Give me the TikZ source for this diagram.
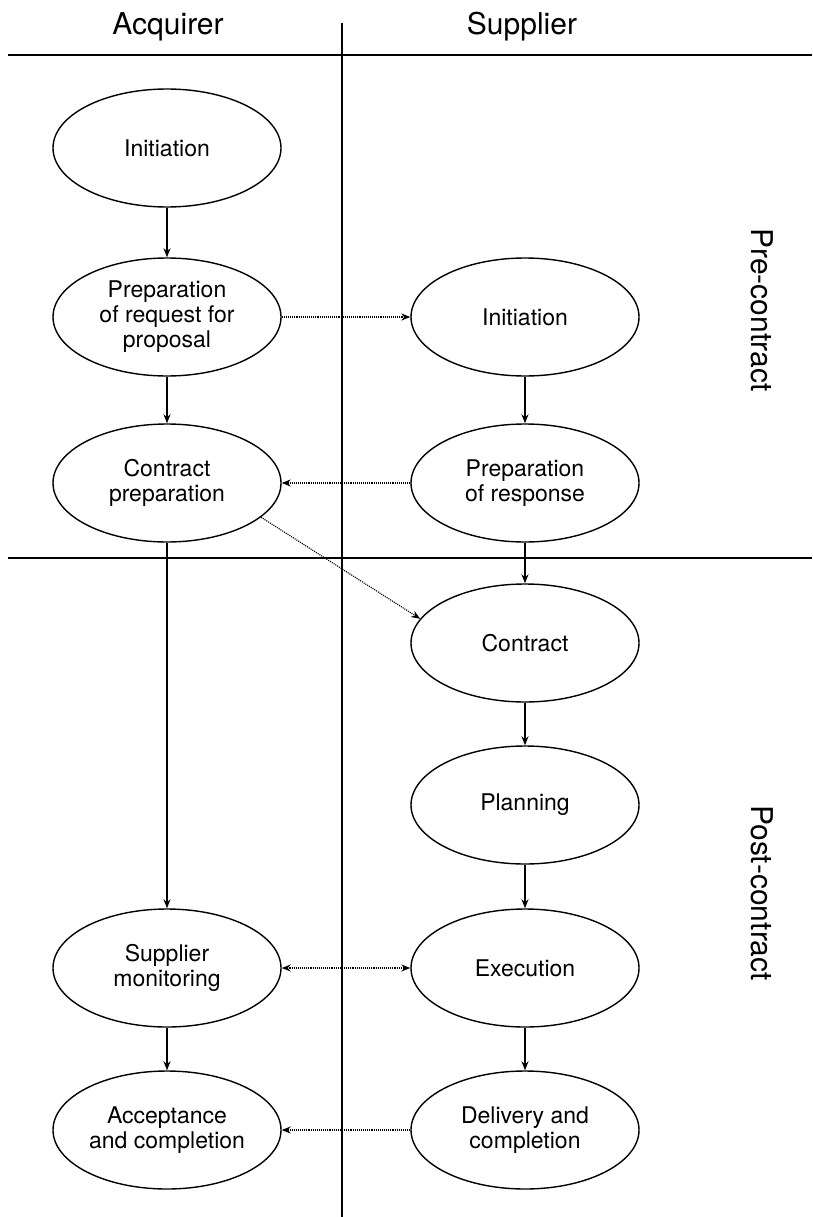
\documentclass[tikz,border=0pt]{standalone}
\usepackage{fontspec}
\setmainfont{TeX Gyre Heros}
\usetikzlibrary{shapes.geometric,arrows.meta}
\begin{document}
\begin{tikzpicture}[x=1pt,y=-1pt,>={Stealth[length=9pt,width=7pt]},
  phase/.style={ellipse,draw,line width=1.4pt,minimum width=228pt,minimum height=118pt,
    inner sep=0pt,align=center,font=\fontsize{23}{25}\selectfont},
  flow/.style={->,line width=1.4pt},
  info/.style={->,line width=1.1pt,densely dotted},
  head/.style={font=\fontsize{30}{32}\selectfont}]
\useasboundingbox (0,0) rectangle (812,1217);
% lanes
\draw[line width=1.6pt] (8,55)--(812,55);
\draw[line width=1.6pt] (8,558)--(812,558);
\draw[line width=1.6pt] (342,23)--(342,1217);
\node[head] (acq) at (168,27) {Acquirer};
\node[head] (sup) at (522,27) {Supplier};
\node[head,rotate=-90] (pre) at (762,310) {Pre-contract};
\node[head,rotate=-90] (post) at (762,893) {Post-contract};
% acquirer side
\node[phase] (ainit) at (167,148) {Initiation};
\node[phase] (rfp) at (167,317) {Preparation\\of request for\\proposal};
\node[phase] (cprep) at (167,483) {Contract\\preparation};
\node[phase] (monit) at (167,968) {Supplier\\monitoring};
\node[phase] (accept) at (167,1130) {Acceptance\\and completion};
% supplier side
\node[phase] (sinit) at (525,317) {Initiation};
\node[phase] (resp) at (525,483) {Preparation\\of response};
\node[phase] (contract) at (525,643) {Contract};
\node[phase] (plan) at (525,805) {Planning};
\node[phase] (exec) at (525,968) {Execution};
\node[phase] (deliv) at (525,1130) {Delivery and\\completion};
% flows
\draw[flow] (ainit)--(rfp);
\draw[flow] (rfp)--(cprep);
\draw[flow] (cprep)--(monit);
\draw[flow] (monit)--(accept);
\draw[flow] (sinit)--(resp);
\draw[flow] (resp)--(contract);
\draw[flow] (contract)--(plan);
\draw[flow] (plan)--(exec);
\draw[flow] (exec)--(deliv);
% exchanges
\draw[info] (rfp.east)--(sinit.west);
\draw[info] (resp.west)--(cprep.east);
\draw[info] (cprep.-20)--(contract.167);
\draw[info,<->] (monit.east)--(exec.west);
\draw[info] (deliv.west)--(accept.east);
\end{tikzpicture}
\end{document}
